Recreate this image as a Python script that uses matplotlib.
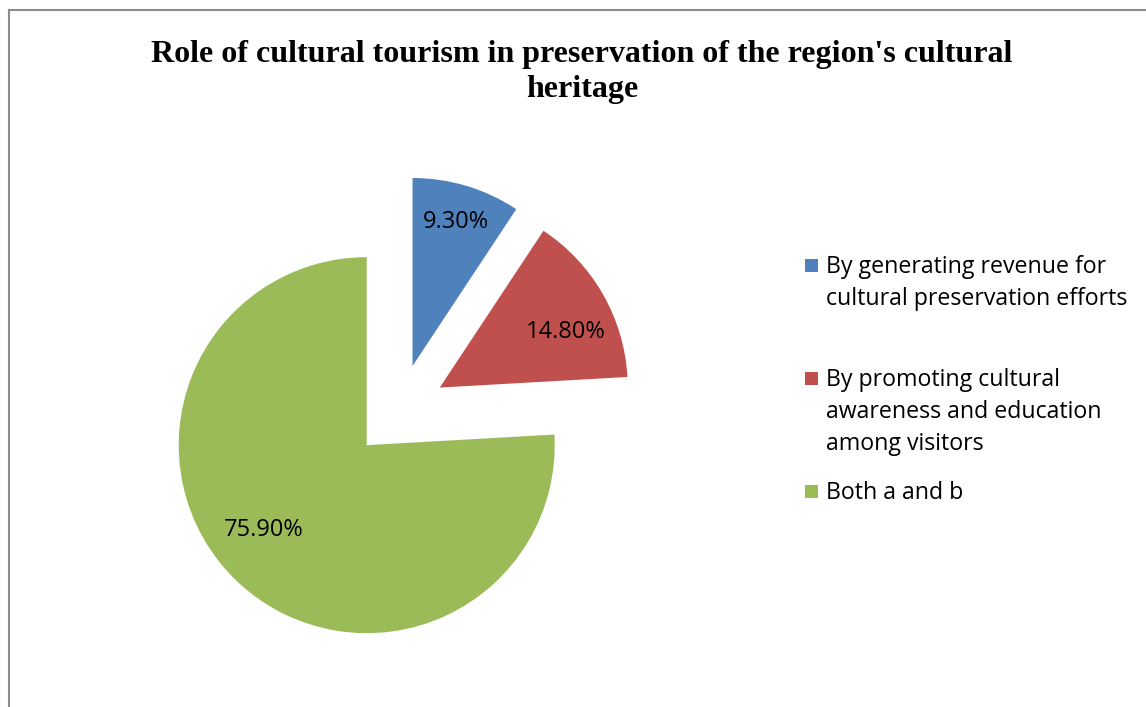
import matplotlib
matplotlib.use("Agg")
import numpy as np
import matplotlib.pyplot as plt
from matplotlib.lines import Line2D
from matplotlib.patches import Rectangle

# chart data
title = "Role of cultural tourism in preservation of the region's cultural\nheritage"
labels = [
    "By generating revenue for\ncultural preservation efforts",
    "By promoting cultural\nawareness and education\namong visitors",
    "Both a and b",
]
shares = [9.30, 14.80, 75.90]
colors = ["#4F81BD", "#C0504D", "#9BBB59"]

W, H = 1146, 707
R = 188
fig = plt.figure(figsize=(W / 100, H / 100), dpi=100)
ax = fig.add_axes([0, 0, 1, 1])

# explode is in data units here, so a quarter of the radius
wedges, texts, autotexts = ax.pie(
    shares, colors=colors, startangle=90, counterclock=False,
    explode=[0.25 * R] * 3, center=(399, H - 411), radius=R,
    autopct="%.2f%%", pctdistance=0.71,
    textprops=dict(family="Open Sans", fontsize=17, color="black"),
    wedgeprops=dict(linewidth=0),
)
ax.set_xlim(0, W)
ax.set_ylim(0, H)
ax.set_aspect("equal")
ax.axis("off")

# Excel places the data labels a little off the wedge bisector
lab_frac = [0.8, 0.73, 0.71]
lab_turn = [0, -6, -7]
for w, t, fr, dt in zip(wedges, autotexts, lab_frac, lab_turn):
    ang = np.deg2rad((w.theta1 + w.theta2) / 2 + dt)
    t.set_position((w.center[0] + fr * w.r * np.cos(ang),
                    w.center[1] + fr * w.r * np.sin(ang)))

# title
fig.text(582 / W, 1 - 72 / H, title, ha="center", va="center",
         family="Liberation Serif", weight="bold", fontsize=23,
         linespacing=1.3)

# legend drawn by hand (Excel spacing is uneven)
leg_y = [265, 378, 491]
for lab, col, y in zip(labels, colors, leg_y):
    ax.add_patch(Rectangle((805, H - y - 6.5), 13, 13, color=col, lw=0))
    ax.text(826, H - y + 10, lab, ha="left", va="top", family="Open Sans",
            fontsize=16.7, linespacing=1.45)

# chart frame (only top and left visible in the crop)
fig.add_artist(Line2D([8.5 / W, 8.5 / W], [0, 1 - 10 / H], color="#8c8c8c", lw=1.5))
fig.add_artist(Line2D([8.5 / W, 1], [1 - 10 / H, 1 - 10 / H], color="#8c8c8c", lw=1.5))

fig.savefig("out.png", dpi=100)
